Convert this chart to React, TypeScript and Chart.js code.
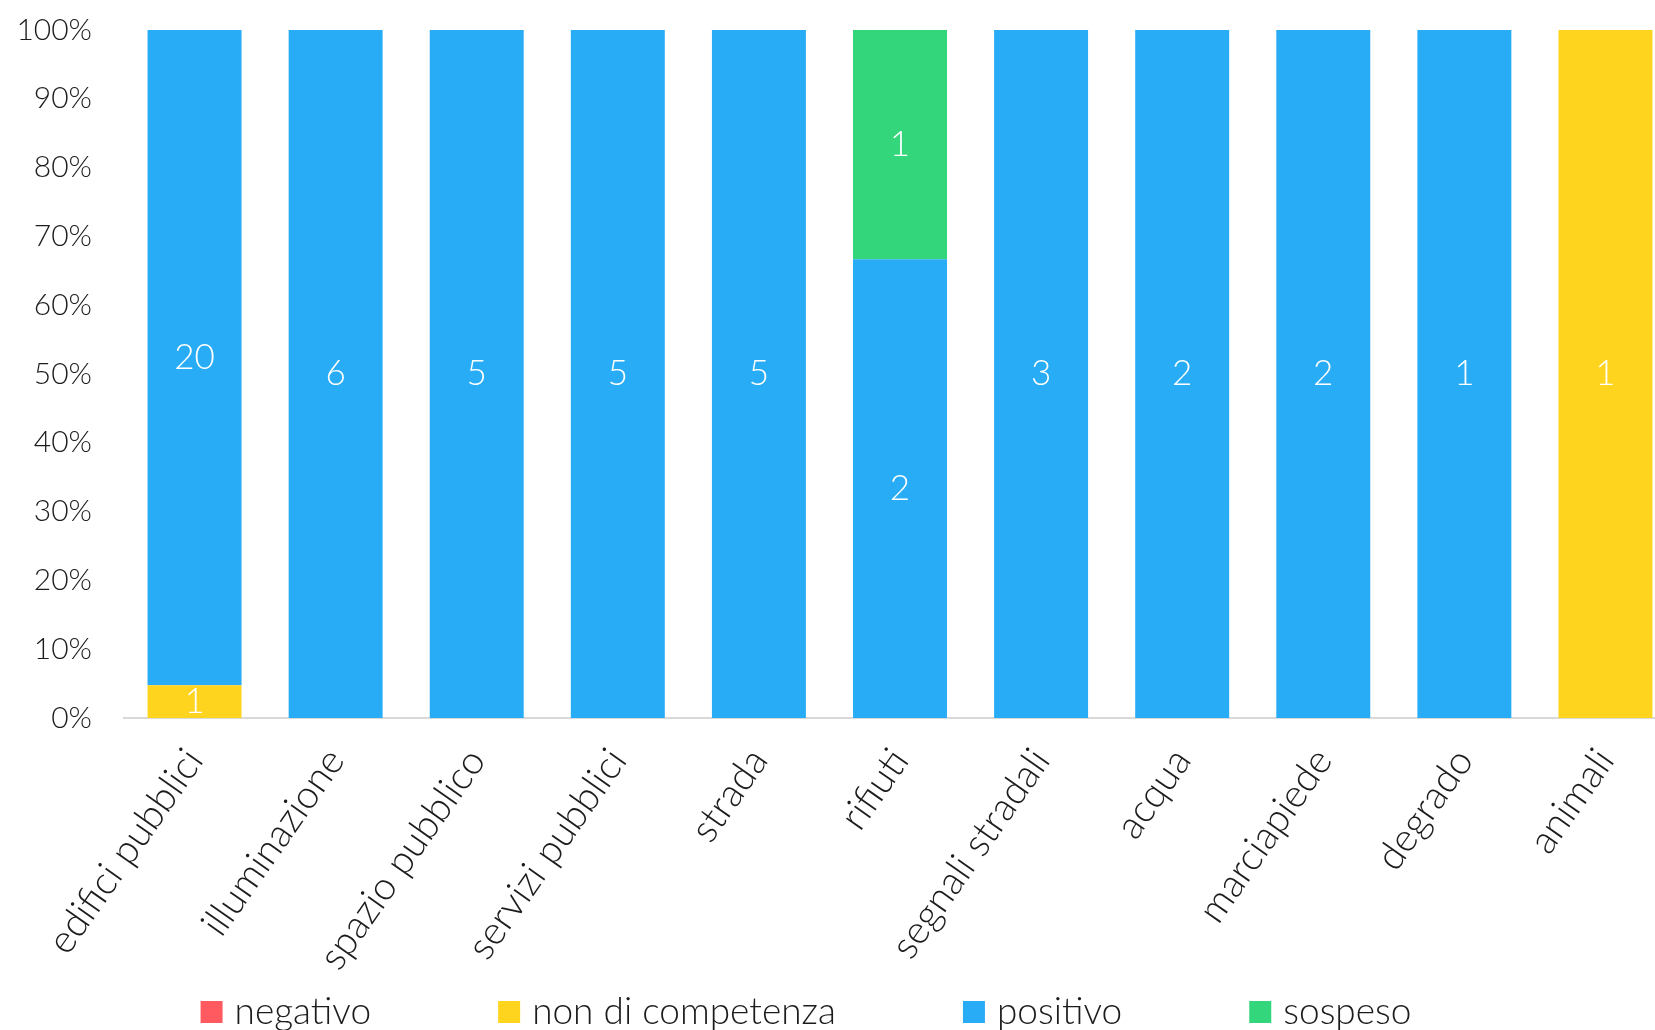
import React, { useEffect, useRef } from 'react';
import { Chart, registerables } from 'chart.js';

Chart.register(...registerables);

const categories = [
  'edifici pubblici',
  'illuminazione',
  'spazio pubblico',
  'servizi pubblici',
  'strada',
  'rifiuti',
  'segnali stradali',
  'acqua',
  'marciapiede',
  'degrado',
  'animali',
];

const negativo = [0, 0, 0, 0, 0, 0, 0, 0, 0, 0, 0];
const nonDiCompetenza = [1, 0, 0, 0, 0, 0, 0, 0, 0, 0, 1];
const positivo = [20, 6, 5, 5, 5, 2, 3, 2, 2, 1, 0];
const sospeso = [0, 0, 0, 0, 0, 1, 0, 0, 0, 0, 0];

const seriesNames = ['negativo', 'non di competenza', 'positivo', 'sospeso'];
const seriesColors = ['#FF5A5F', '#FFD41F', '#28ACF5', '#33D67A'];

const yTickValues = [0, 10, 20, 30, 40, 50, 60, 70, 80, 90, 100];

const FONT = 'Lato';
const WEIGHT = 300;
const TEXT_COLOR = '#1c1c1c';

const counts = [negativo, nonDiCompetenza, positivo, sospeso];
const totals = categories.map((_, i) => counts.reduce((s, arr) => s + arr[i], 0));
const percents = counts.map((arr) => arr.map((v, i) => (totals[i] ? (v / totals[i]) * 100 : 0)));

const countLabels = {
  id: 'countLabels',
  afterDatasetsDraw(chart: any) {
    const ctx = chart.ctx;
    ctx.save();
    ctx.font = `${WEIGHT} 35px ${FONT}`;
    ctx.fillStyle = '#ffffff';
    ctx.textAlign = 'center';
    ctx.textBaseline = 'middle';
    chart.data.datasets.forEach((_: any, di: number) => {
      const meta = chart.getDatasetMeta(di);
      meta.data.forEach((el: any, i: number) => {
        const c = counts[di][i];
        if (!c) return;
        const { x, y, base } = el.getProps(['x', 'y', 'base'], true);
        ctx.fillText(String(c), x, (y + base) / 2);
      });
    });
    ctx.restore();
  },
};

const bottomLegend = {
  id: 'bottomLegend',
  afterDraw(chart: any) {
    const ctx = chart.ctx;
    ctx.save();
    ctx.font = `${WEIGHT} 37px ${FONT}`;
    ctx.textBaseline = 'middle';
    ctx.textAlign = 'left';
    const box = 22;
    const boxGap = 12;
    const itemGap = 127;
    const cy = 1012;
    const widths = seriesNames.map((n) => ctx.measureText(n).width);
    const total =
      widths.reduce((s, w) => s + box + boxGap + w, 0) + itemGap * (seriesNames.length - 1);
    let x = 806 - total / 2;
    seriesNames.forEach((n, i) => {
      ctx.fillStyle = seriesColors[i];
      ctx.fillRect(x, cy - box / 2, box, box);
      ctx.fillStyle = TEXT_COLOR;
      ctx.fillText(n, x + box + boxGap, cy);
      x += box + boxGap + widths[i] + itemGap;
    });
    ctx.restore();
  },
};

export default function App() {
  const ref = useRef<HTMLCanvasElement>(null);

  useEffect(() => {
    if (!ref.current) return;
    const chart = new Chart(ref.current, {
      type: 'bar',
      data: {
        labels: categories,
        datasets: seriesNames.map((name, i) => ({
          label: name,
          data: percents[i],
          backgroundColor: seriesColors[i],
          borderWidth: 0,
          barPercentage: 0.666,
          categoryPercentage: 1,
        })),
      },
      options: {
        responsive: false,
        animation: false,
        layout: { padding: { top: 30, left: 0, right: 0, bottom: 0 } },
        plugins: {
          legend: { display: false },
          tooltip: { enabled: false },
        },
        scales: {
          x: {
            stacked: true,
            grid: { display: false },
            border: { display: true, color: '#d9d9d9', width: 2 },
            ticks: {
              autoSkip: false,
              maxRotation: 55,
              minRotation: 55,
              padding: 14,
              color: TEXT_COLOR,
              font: { family: FONT, size: 39, weight: WEIGHT },
            },
            afterFit: (s: any) => {
              s.height = 312;
            },
          },
          y: {
            stacked: true,
            min: 0,
            max: 100,
            afterBuildTicks: (s: any) => {
              s.ticks = yTickValues.map((v) => ({ value: v }));
            },
            grid: { display: false, drawTicks: false },
            border: { display: false },
            ticks: {
              padding: 32,
              color: TEXT_COLOR,
              font: { family: FONT, size: 30, weight: WEIGHT },
              callback: (v: any) => `${v}%`,
            },
            afterFit: (s: any) => {
              s.width = 124;
              s.paddingTop = 0;
              s.paddingBottom = 0;
            },
          },
        },
      },
      plugins: [countLabels, bottomLegend],
    });
    return () => chart.destroy();
  }, []);

  return (
    <div
      style={{
        position: 'absolute',
        left: 0,
        top: 0,
        width: 1655,
        height: 1030,
        overflow: 'hidden',
        background: '#fff',
      }}
    >
      <canvas ref={ref} width={1676} height={1030} style={{ display: 'block' }} />
    </div>
  );
}
